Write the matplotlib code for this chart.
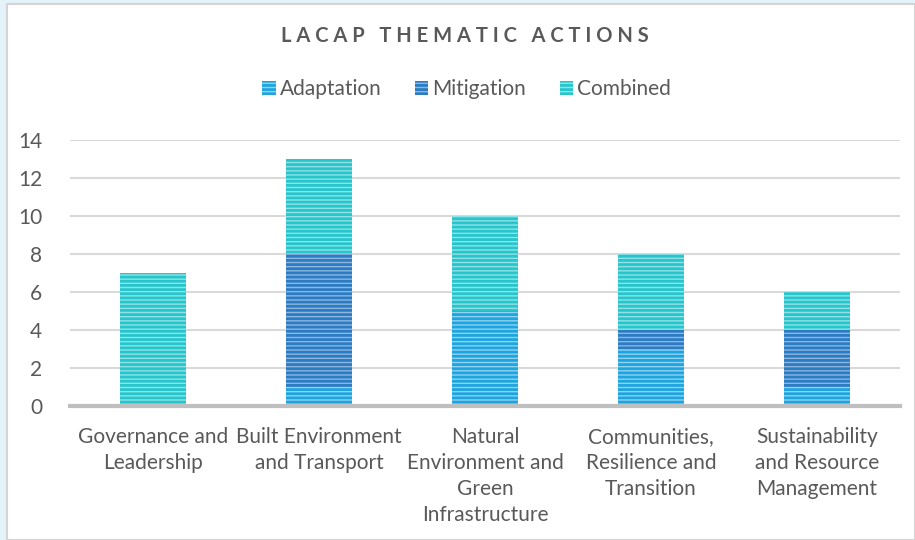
import matplotlib
matplotlib.use('Agg')
import matplotlib.pyplot as plt
from matplotlib.patches import Rectangle, Patch
import numpy as np

categories = ['Governance and\nLeadership', 'Built Environment\nand Transport',
              'Natural\nEnvironment and\nGreen\nInfrastructure',
              'Communities,\nResilience and\nTransition',
              'Sustainability\nand Resource\nManagement']
adaptation = [0, 1, 5, 3, 1]
mitigation = [0, 7, 0, 1, 3]
combined   = [7, 5, 5, 4, 2]
series_names = ['Adaptation', 'Mitigation', 'Combined']

colors = {'Adaptation': ('#8fd3f2', '#1ea5e0'),
          'Mitigation': ('#8db6e0', '#2c7cc3'),
          'Combined':   ('#8fe3e6', '#27c6cc')}
text_grey = '#595959'

plt.rcParams['font.family'] = ['Lato', 'DejaVu Sans']
plt.rcParams['hatch.linewidth'] = 2.0

fig = plt.figure(figsize=(9.15, 5.4), dpi=100, facecolor='#e4f2fa')
W, H = 915, 540
fig.patches.append(Rectangle((7 / W, 0), 1 - 7 / W, 1 - 4 / H,
                             transform=fig.transFigure, facecolor='white',
                             edgecolor='#d4d4d4', linewidth=1.5, zorder=-5))

ax = fig.add_axes([70 / W, 134 / H, 830 / W, 266 / H])
ax.set_facecolor('none')
ax.set_zorder(2)

x = np.arange(len(categories))
bottom = np.zeros(len(categories))
for name, vals in zip(series_names, [adaptation, mitigation, combined]):
    light, dark = colors[name]
    ax.bar(x, vals, width=0.4, bottom=bottom, color=light, edgecolor=dark,
           hatch='----', linewidth=0, zorder=3)
    bottom += np.array(vals)

ax.set_xlim(-0.5, len(categories) - 0.5)
ax.set_ylim(0, 14)
ax.set_yticks(range(0, 15, 2))
ax.set_xticks(x)
ax.set_xticklabels(categories, fontsize=15, color=text_grey, linespacing=1.38)
ax.tick_params(axis='both', length=0, labelsize=15, labelcolor=text_grey)
ax.tick_params(axis='x', pad=15)
ax.tick_params(axis='y', pad=20)
ax.grid(axis='y', color='#d9d9d9', linewidth=1.5, zorder=0)
for s in ['left', 'right', 'top']:
    ax.spines[s].set_visible(False)
ax.spines['bottom'].set_color('#bfbfbf')
ax.spines['bottom'].set_linewidth(3)
ax.spines['bottom'].set_zorder(4)

fig.text(0.508, 1 - 36 / H, 'L A C A P   T H E M A T I C   A C T I O N S',
         ha='center', va='center', fontsize=14.5, fontweight='bold', color=text_grey)

handles = [Patch(facecolor=colors[n][0], edgecolor=colors[n][1], hatch='----',
                 linewidth=0) for n in series_names]
fig.legend(handles, series_names, loc='center', bbox_to_anchor=(0.51, 1 - 89 / H),
           ncol=3, frameon=False, fontsize=15, labelcolor=text_grey,
           handlelength=0.65, handleheight=0.65, handletextpad=0.2, columnspacing=1.6)

plt.savefig('out.png', dpi=100, facecolor=fig.get_facecolor())
